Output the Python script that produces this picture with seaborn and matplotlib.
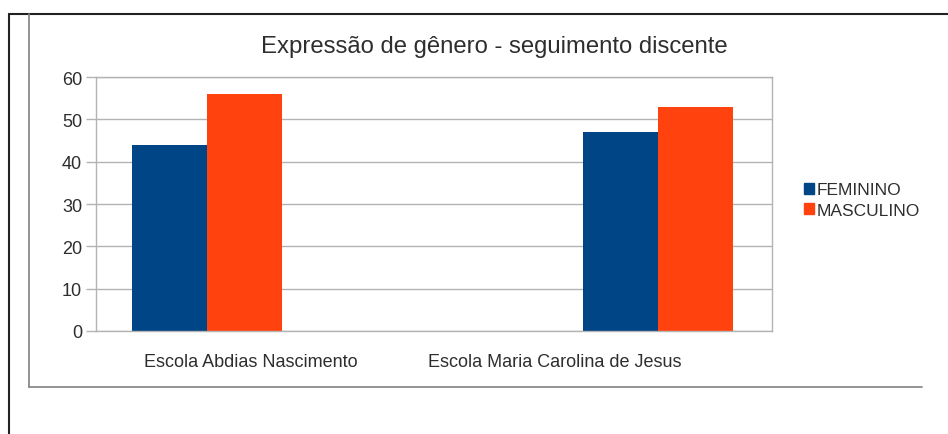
import pandas as pd
import matplotlib.pyplot as plt
from matplotlib.lines import Line2D
from matplotlib.patches import Rectangle
import seaborn as sns

escolas = ["Escola Abdias Nascimento", "Escola Maria Carolina de Jesus"]
feminino = [44, 47]
masculino = [56, 53]
series = ["FEMININO", "MASCULINO"]
cores = ["#004586", "#ff420e"]

df = pd.DataFrame({
    "escola": escolas * 2,
    "valor": feminino + masculino,
    "serie": [series[0]] * 2 + [series[1]] * 2,
})

sns.set_style("white")
plt.rcParams["font.family"] = ["Liberation Sans", "DejaVu Sans"]

fig = plt.figure(figsize=(9.48, 4.35), dpi=100)
W, H = 948, 435

# moldura externa (preta) e do grafico (cinza)
fig.add_artist(Line2D([9 / W, 9 / W], [0, 1 - 15 / H], color="#222222", lw=1.5))
fig.add_artist(Line2D([9 / W, 1], [1 - 15 / H, 1 - 15 / H], color="#222222", lw=1.5))
fig.add_artist(Line2D([29 / W, 29 / W], [1 - 388 / H, 1 - 15 / H], color="#808080", lw=1.2))
fig.add_artist(Line2D([29 / W, 922 / W], [1 - 388 / H, 1 - 388 / H], color="#808080", lw=1.2))

ax = fig.add_axes([96 / W, 1 - 332 / H, 676 / W, 254 / H])
sns.barplot(data=df, x="escola", y="valor", hue="serie", palette=cores,
            width=0.333, gap=0, saturation=1, linewidth=0, ax=ax, legend=False)

ax.set_xlim(-0.246, 1.253)
ax.set_ylim(0, 60)
ax.set_yticks(range(0, 61, 10))
# rotulos das categorias ficam deslocados como no original
ax.set_xticks([0.098, 0.772], escolas)
ax.yaxis.grid(True, color="#b3b3b3", lw=1)
ax.set_axisbelow(True)
for s in ax.spines.values():
    s.set_color("#b3b3b3")
    s.set_linewidth(1)
ax.tick_params(axis="y", left=True, length=7.5, width=1, color="#b3b3b3",
               pad=2.5, labelsize=13, labelcolor="#2e2e2e")
ax.tick_params(axis="x", bottom=False, pad=12, labelsize=13, labelcolor="#2e2e2e")
ax.set_xlabel("")
ax.set_ylabel("")

fig.text(494 / W, 1 - 47 / H, "Expressão de gênero - seguimento discente",
         ha="center", va="center", fontsize=17.2, color="#2e2e2e")

handles = [Rectangle((0, 0), 1, 1, color=c) for c in cores]
fig.legend(handles, series, loc="center left", bbox_to_anchor=(795 / W, 1 - 201 / H),
           frameon=False, fontsize=12.5, handlelength=0.6, handleheight=0.6,
           handletextpad=0.15, labelspacing=0.3, borderpad=0, labelcolor="#2e2e2e")

fig.savefig("out.png", dpi=100)
